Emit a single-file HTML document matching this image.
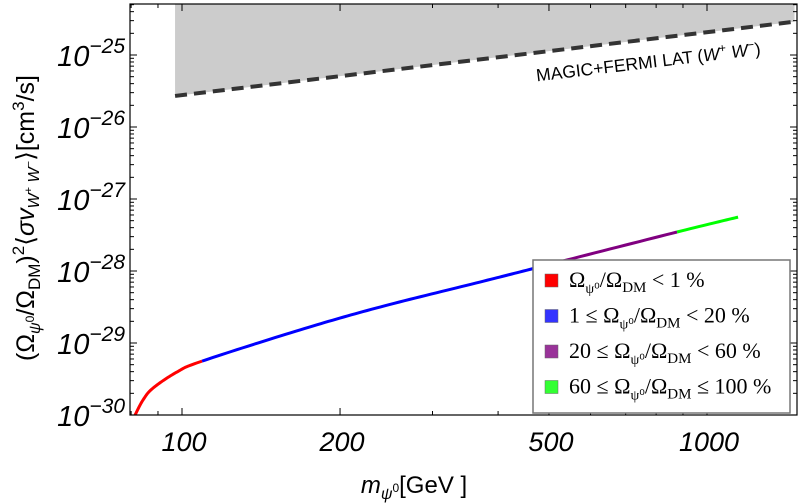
<!DOCTYPE html>
<html><head><meta charset="utf-8"><style>
html,body{margin:0;padding:0;background:#fff;}
svg{display:block;}
</style></head><body>
<svg id="chart" width="800" height="504" xmlns="http://www.w3.org/2000/svg">
</svg>
<script>
const massPoints = [81.4, 84.3, 88.1, 97.8, 109.2, 167.8, 238.4, 369.5, 487, 877, 1146];
const sigmaValues = [1.0e-30, 1.62e-30, 2.37e-30, 3.95e-30, 5.6e-30, 1.52e-29, 3.16e-29, 7.03e-29, 1.17e-28, 3.48e-28, 5.6e-28];
const regionBounds = [109.2, 487, 877];
const regionColors = ['#ff0000', '#0000ff', '#800080', '#00ff00'];
const limitMass = [97, 1468];
const limitSigma = [2.7e-26, 2.9e-25];
const xTickLabels = [100, 200, 500, 1000];
const yTickExps = [-30, -29, -28, -27, -26, -25];
const legendLabels = ['Ω<tspan font-size="14" dy="6">ψ⁰</tspan><tspan dy="-6">/Ω</tspan><tspan font-size="15" dy="5">DM</tspan><tspan dy="-5"> &lt; 1 %</tspan>',
 ' 1 ≤ Ω<tspan font-size="14" dy="6">ψ⁰</tspan><tspan dy="-6">/Ω</tspan><tspan font-size="15" dy="5">DM</tspan><tspan dy="-5"> &lt; 20 %</tspan>',
 '20 ≤ Ω<tspan font-size="14" dy="6">ψ⁰</tspan><tspan dy="-6">/Ω</tspan><tspan font-size="15" dy="5">DM</tspan><tspan dy="-5"> &lt; 60 %</tspan>',
 '60 ≤ Ω<tspan font-size="14" dy="6">ψ⁰</tspan><tspan dy="-6">/Ω</tspan><tspan font-size="15" dy="5">DM</tspan><tspan dy="-5"> ≤ 100 %</tspan>'];
const legendSwatch = ['#ff0000', '#3333ff', '#993399', '#33ff33'];

const L=130, R=797, T=4, B=415;
const X = m => 182 + (Math.log10(m) - 2) * 525;
const Xinv = x => Math.pow(10, 2 + (x - 182) / 525);
const Y = v => 415 - (Math.log10(v) + 30) * 72;
const svg = document.getElementById('chart');
const NS = 'http://www.w3.org/2000/svg';
function mk(tag, attrs, parent) {
  const e = document.createElementNS(NS, tag);
  for (const k in attrs) e.setAttribute(k, attrs[k]);
  (parent || svg).appendChild(e);
  return e;
}
const defs = mk('defs', {});
const cp = mk('clipPath', {id: 'plotclip'}, defs);
mk('rect', {x: L, y: T, width: R - L, height: B - T}, cp);

// excluded region
const gx0 = X(limitMass[0]), gy0 = Y(limitSigma[0]), gx1 = X(limitMass[1]), gy1 = Y(limitSigma[1]);
const band = mk('polygon', {points: `${gx0},${T} ${gx1},${T} ${gx1},${gy1} ${gx0},${gy0}`, fill: '#cccccc', 'clip-path': 'url(#plotclip)'});


const lim = mk('line', {x1: gx0, y1: gy0, x2: gx1, y2: gy1, stroke: '#333', 'stroke-width': 4, 'stroke-dasharray': '12,7', 'clip-path': 'url(#plotclip)'});


const ang = Math.atan2(gy1 - gy0, gx1 - gx0) * 180 / Math.PI;
const lt = mk('text', {x: 0, y: 0, 'font-family': 'Liberation Sans, sans-serif', 'font-size': 17.5, fill: '#000', 'text-anchor': 'middle',
  transform: `translate(649,68) rotate(${ang})`});
lt.innerHTML = 'MAGIC+FERMI LAT (<tspan font-style="italic">W</tspan><tspan font-size="12" dy="-7">+</tspan><tspan dy="7">  </tspan><tspan font-style="italic">W</tspan><tspan font-size="12" dy="-7">−</tspan><tspan dy="7">)</tspan>';



// smooth curve (Catmull-Rom in pixel space), coloured by region
function colorIdx(m) { let i = 0; while (i < regionBounds.length && m >= regionBounds[i] - 1e-9) i++; return i; }
const P = massPoints.map((m, i) => [X(m), Y(sigmaValues[i])]);
const dense = [];
for (let i = 0; i < P.length - 1; i++) {
  const p0 = P[Math.max(0, i - 1)], p1 = P[i], p2 = P[i + 1], p3 = P[Math.min(P.length - 1, i + 2)];
  for (let s = 0; s < 20; s++) {
    const t = s / 20, t2 = t * t, t3 = t2 * t;
    const f = (a, b, c, d) => 0.5 * (2 * b + (-a + c) * t + (2 * a - 5 * b + 4 * c - d) * t2 + (-a + 3 * b - 3 * c + d) * t3);
    dense.push([f(p0[0], p1[0], p2[0], p3[0]), f(p0[1], p1[1], p2[1], p3[1])]);
  }
}
dense.push(P[P.length - 1]);
const cg = mk('g', {'clip-path': 'url(#plotclip)'});


let cur = [dense[0]], ci = colorIdx(Xinv(dense[0][0]));
function flush(pts, idx) {
  const pl = mk('polyline', {points: pts.map(p => p.join(',')).join(' '), fill: 'none', stroke: regionColors[idx], 'stroke-width': 3, 'stroke-linecap': 'butt', 'stroke-linejoin': 'round'}, cg);
  
  
}
for (let i = 1; i < dense.length; i++) {
  const idx = colorIdx(Xinv(dense[i][0]));
  cur.push(dense[i]);
  if (idx !== ci) { flush(cur, ci); cur = [dense[i]]; ci = idx; }
}
flush(cur, ci);

// frame
const fr = mk('rect', {x: L, y: T, width: R - L, height: B - T, fill: 'none', stroke: '#000', 'stroke-width': 1.2});



// x ticks
const xt = mk('g', {stroke: '#000', 'stroke-width': 1});
for (let d = 1; d <= 3; d++) for (let k = 1; k <= 9; k++) {
  const m = k * Math.pow(10, d); const x = X(m);
  if (x < L || x > R) continue;
  const major = [1, 2, 5].includes(k);
  const len = major ? 7 : 4;
  mk('line', {x1: x, y1: B, x2: x, y2: B - len}, xt);
  mk('line', {x1: x, y1: T, x2: x, y2: T + len}, xt);
}
xTickLabels.forEach(v => {
  const t = mk('text', {x: X(v) + 2, y: 451, 'font-family': 'Liberation Sans, sans-serif', 'font-size': 27, 'font-style': 'italic', 'text-anchor': 'middle'});
  t.textContent = v;
  
  
});
// y ticks
const yt = mk('g', {stroke: '#000', 'stroke-width': 1});
for (let e = -31; e <= -25; e++) for (let k = 1; k <= 9; k++) {
  const v = k * Math.pow(10, e); const y = Y(v);
  if (y < T || y > B) continue;
  const len = k === 1 ? 7 : 4;
  mk('line', {x1: L, y1: y, x2: L + len, y2: y}, yt);
  mk('line', {x1: R, y1: y, x2: R - len, y2: y}, yt);
}
yTickExps.forEach(e => {
  const t = mk('text', {x: 125, y: Y(Math.pow(10, e)) + 11, 'font-family': 'Liberation Sans, sans-serif', 'font-size': 29, 'font-style': 'italic', 'text-anchor': 'end'});
  t.innerHTML = `10<tspan font-size="21" dy="-13">−${-e}</tspan>`;
  
  
});

// axis titles
const xtitle = mk('text', {x: 414, y: 493, 'font-family': 'Liberation Sans, sans-serif', 'font-size': 24, 'text-anchor': 'middle'});
xtitle.innerHTML = '<tspan font-style="italic">m</tspan><tspan font-size="16" dy="6" font-style="italic">ψ</tspan><tspan font-size="12" dy="-7">0</tspan><tspan dy="1">[GeV ]</tspan>';


const ytitle = mk('text', {x: 0, y: 0, 'font-family': 'Liberation Sans, sans-serif', 'font-size': 25, 'text-anchor': 'middle', transform: 'translate(34,218) rotate(-90)'});
ytitle.innerHTML = '(Ω<tspan font-size="16" dy="6" font-style="italic">ψ</tspan><tspan font-size="12" dy="-6">0</tspan><tspan dy="0">/Ω</tspan><tspan font-size="17" dy="6">DM</tspan><tspan dy="-6">)</tspan><tspan font-size="17" dy="-10">2</tspan><tspan dy="10">⟨</tspan><tspan font-style="italic">σv</tspan><tspan font-size="16" dy="5" font-style="italic">W</tspan><tspan font-size="11" dy="-7">+</tspan><tspan font-size="16" dy="7" font-style="italic"> W</tspan><tspan font-size="11" dy="-7">−</tspan><tspan dy="2">⟩[cm</tspan><tspan font-size="17" dy="-10">3</tspan><tspan dy="10">/s]</tspan>';



// legend
const lg = mk('g', {});


mk('rect', {x: 533, y: 260, width: 257, height: 153, fill: '#fff', stroke: '#777', 'stroke-width': 1.5}, lg);
legendLabels.forEach((lab, i) => {
  const cy = 281 + i * 35.5;
  const sw = mk('rect', {x: 545, y: cy - 7, width: 13, height: 13, fill: legendSwatch[i], stroke: '#666', 'stroke-width': 0.5}, lg);
  
  
  const t = mk('text', {x: 569, y: cy + 6, 'font-family': 'Liberation Serif, serif', 'font-size': 22}, lg);
  t.innerHTML = lab;
  
  
});
</script>
</body></html>
